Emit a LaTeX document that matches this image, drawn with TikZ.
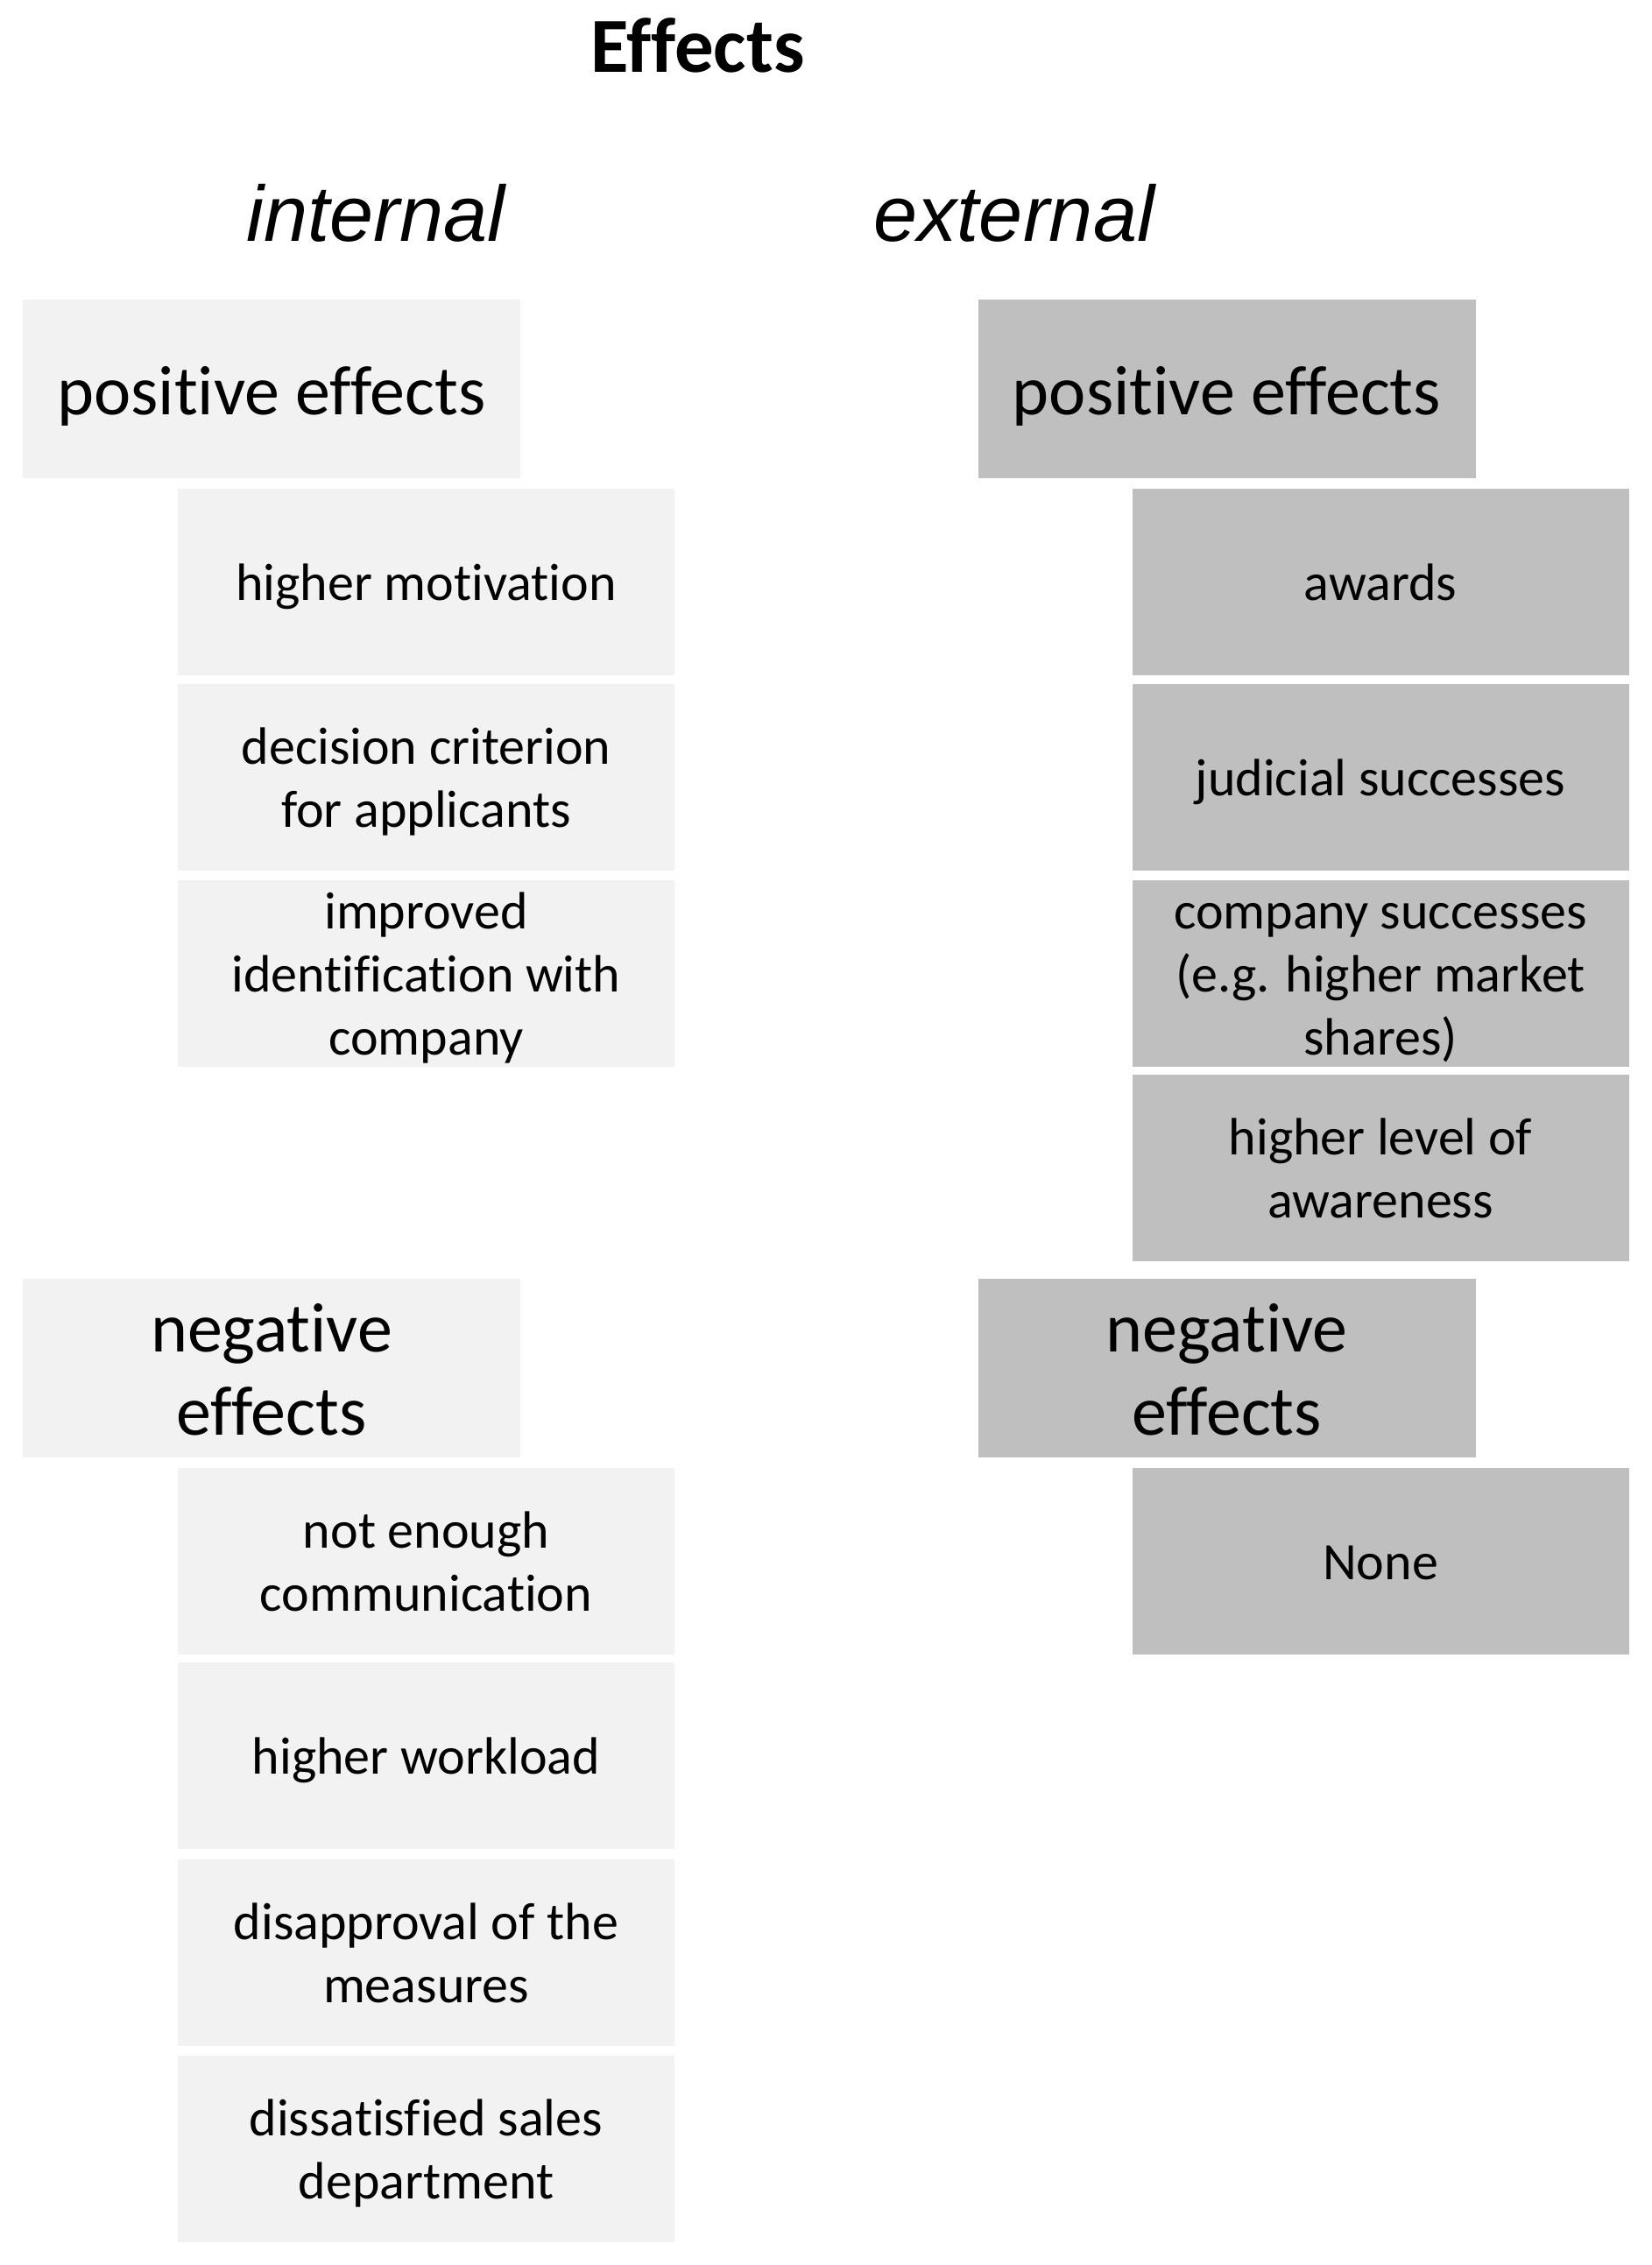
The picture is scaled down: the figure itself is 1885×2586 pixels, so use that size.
\documentclass[tikz,border=0pt]{standalone}
\usepackage{fontspec}
\setmainfont{Carlito}[Ligatures=NoCommon]
\newfontfamily\arialfont{Liberation Sans}
\definecolor{lightbox}{HTML}{F2F2F2}
\definecolor{darkbox}{HTML}{BFBFBF}
\newcommand\istr{\rule[-14pt]{0pt}{70pt}}
\newcommand\hstr{\rule[-18pt]{0pt}{95pt}}
\begin{document}
\begin{tikzpicture}[x=1pt,y=-1pt,
  basebox/.style={inner xsep=0pt, inner ysep=-2pt, outer sep=0pt, align=center, text=black},
  header/.style={basebox, minimum width=568pt, minimum height=204pt, font=\fontsize{80}{95}\selectfont},
  item/.style={basebox, minimum width=567pt, minimum height=213pt, font=\fontsize{60}{72}\selectfont},
  intfill/.style={fill=lightbox},
  extfill/.style={fill=darkbox},
  titletext/.style={anchor=base, inner sep=0pt, font=\bfseries\fontsize{89}{106}\selectfont},
  columntext/.style={anchor=base, inner sep=0pt, font=\arialfont\itshape\fontsize{90}{108}\selectfont}]
\fill[white] (0,0) rectangle (1885,2586);
\useasboundingbox (0,0) rectangle (1885,2586);
\node[titletext] (title) at (796.5,82) {Effects};
\node[columntext] (internal) at (429,275) {internal};
\node[columntext] (external) at (1158,275) {external};
% internal column
\node[header,intfill] (ipos) at (310,443.5) {\hstr positive effects};
\node[item,intfill] (i1) at (486.5,664.5) {\istr higher motivation};
\node[item,intfill] (i2) at (486.5,887) {\istr decision criterion\\\istr for applicants};
\node[item,intfill] (i3) at (486.5,1111) {\istr improved\\\istr identification with\\\istr company};
\node[header,intfill] (ineg) at (310,1561.5) {\hstr negative\\\hstr effects};
\node[item,intfill] (n1) at (486.5,1782) {\istr not enough\\\istr communication};
\node[item,intfill] (n2) at (486.5,2004.5) {\istr higher workload};
\node[item,intfill] (n3) at (486.5,2229.5) {\istr disapproval of the\\\istr measures};
\node[item,intfill] (n4) at (486.5,2453.5) {\istr dissatisfied sales\\\istr department};
% external column
\node[header,extfill] (epos) at (1400.5,443.5) {\hstr positive effects};
\node[item,extfill] (e1) at (1576,664.5) {\istr awards};
\node[item,extfill] (e2) at (1576,887) {\istr judicial successes};
\node[item,extfill] (e3) at (1576,1111) {\istr company successes\\\istr (e.g. higher market\\\istr shares)};
\node[item,extfill] (e4) at (1576,1333.5) {\istr higher level of\\\istr awareness};
\node[header,extfill] (eneg) at (1400.5,1561.5) {\hstr negative\\\hstr effects};
\node[item,extfill] (none) at (1576,1782) {\istr None};
\end{tikzpicture}
\end{document}
